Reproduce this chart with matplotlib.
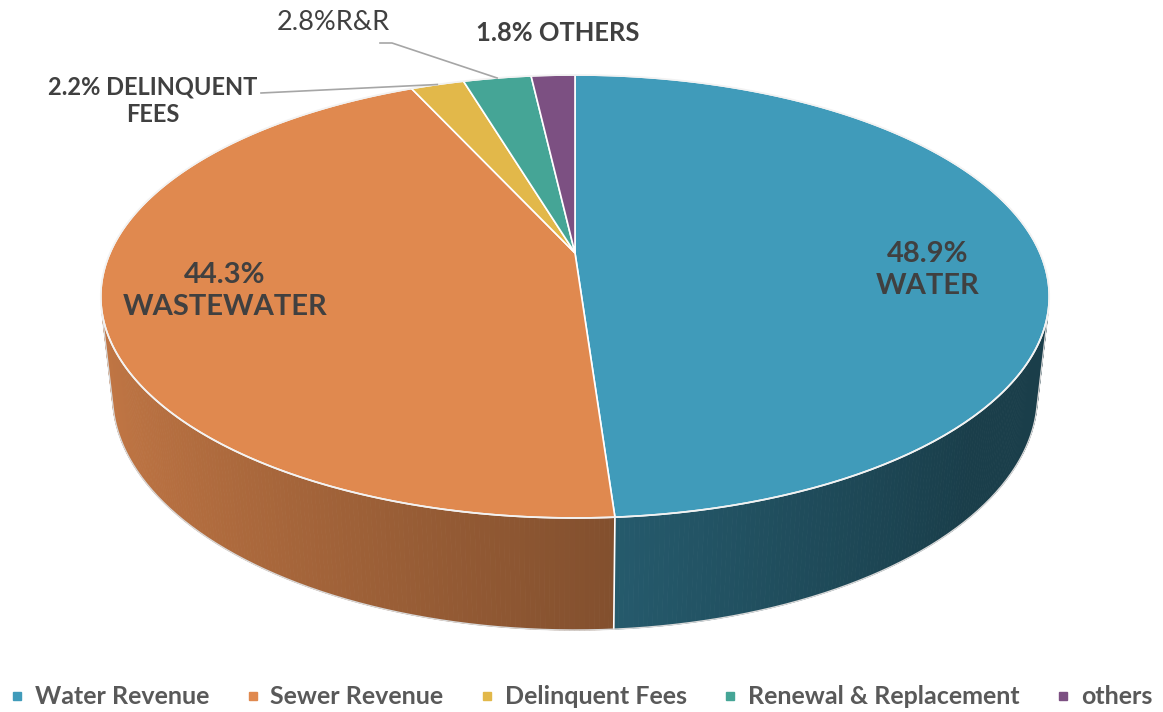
import numpy as np
import matplotlib.pyplot as plt
from matplotlib.lines import Line2D
from matplotlib.colors import to_rgb

plt.rcParams['font.family'] = ['Lato', 'DejaVu Sans']

# Data -------------------------------------------------------------------------
labels = ['Water Revenue', 'Sewer Revenue', 'Delinquent Fees',
          'Renewal & Replacement', 'others']
shares = [48.9, 44.3, 2.2, 2.8, 1.8]
colors = ['#409bba', '#e0894f', '#e2b84a', '#45a596', '#7c5082']
slice_text = ['48.9%\nWATER', '44.3%\nWASTEWATER', '2.2% DELINQUENT\nFEES',
              '2.8%R&R', '1.8% OTHERS']

# View of the 3d disc (radius 1, top at z=0) -----------------------------------
elev = np.arcsin(0.458)
dist = 4.53      # camera distance, in radii
depth = 0.24     # thickness of the disc
K = 465          # px per radius
cx, cy = 575, 253


def project(phi, z, r=1.0):
    # phi clockwise from 12 o'clock (the far side)
    x3 = r * np.sin(phi)
    y3 = r * np.cos(phi)
    Y = z * np.cos(elev) + y3 * np.sin(elev)
    D = y3 * np.cos(elev) - z * np.sin(elev)
    s = dist / (dist + D)
    return cx + K * x3 * s, cy - K * Y * s


def wall_color(col, phi):
    # light comes from the upper left
    f = max(0.40, 0.60 - 0.27 * np.sin(phi))
    return np.clip(np.array(to_rgb(col)) * f, 0, 1)


fig = plt.figure(figsize=(11.63, 7.12), dpi=100)
ax = fig.add_axes([0, 0, 1, 1])
ax.set_xlim(0, 1163)
ax.set_ylim(712, 0)
ax.axis('off')

edges = 2 * np.pi * np.concatenate([[0], np.cumsum(shares)]) / sum(shares)
# outer wall faces the camera where cos(phi) < -1/(dist*cos(elev))
vis = np.arccos(-1 / (dist * np.cos(elev)))
vis0, vis1 = vis, 2 * np.pi - vis

# Side walls
for i in range(len(shares)):
    a0 = max(edges[i], vis0)
    a1 = min(edges[i + 1], vis1)
    if a1 <= a0:
        continue
    n = max(int(np.degrees(a1 - a0) / 0.5), 1)
    ts = np.linspace(a0, a1, n + 1)
    for t0, t1 in zip(ts[:-1], ts[1:]):
        xt0, yt0 = project(t0, 0)
        xt1, yt1 = project(t1, 0)
        xb1, yb1 = project(t1, -depth)
        xb0, yb0 = project(t0, -depth)
        c = wall_color(colors[i], (t0 + t1) / 2)
        ax.fill([xt0, xt1, xb1, xb0], [yt0, yt1, yb1, yb0],
                color=c, lw=0.6, ec=c, zorder=1)

# white seams on the wall between slices
for a in edges:
    a = a % (2 * np.pi)
    if vis0 < a < vis1:
        xt, yt = project(a, 0)
        xb, yb = project(a, -depth)
        ax.plot([xt, xb], [yt, yb], color='white', lw=1.2, zorder=2)

# wall outline
tb = np.linspace(vis0, vis1, 300)
xb, yb = project(tb, -depth)
ax.plot(xb, yb, color='#d9d9d9', lw=1.0, zorder=2)
for a in (vis0, vis1):
    xt, yt = project(a, 0)
    xx, yy = project(a, -depth)
    ax.plot([xt, xx], [yt, yy], color='#d9d9d9', lw=1.0, zorder=2)

# Top faces
for i in range(len(shares)):
    ts = np.linspace(edges[i], edges[i + 1], 200)
    xs, ys = project(ts, 0)
    ax.fill(np.concatenate([[cx], xs]), np.concatenate([[cy], ys]),
            color=colors[i], ec='white', lw=1.2, zorder=3)

ta = np.linspace(0, 2 * np.pi, 400)
xr, yr = project(ta, 0)
ax.plot(xr, yr, color='#f2f2f2', lw=1.2, zorder=4)

# Labels -----------------------------------------------------------------------
txt_color = '#404040'
ax.text(928, 270, slice_text[0], ha='center', va='center', fontsize=21,
        weight='bold', color=txt_color, linespacing=1.3, zorder=5)
ax.text(225, 291, slice_text[1], ha='center', va='center', fontsize=21,
        weight='bold', color=txt_color, linespacing=1.3, zorder=5)
ax.text(153, 101, slice_text[2], ha='center', va='center', fontsize=17,
        weight='bold', color=txt_color, linespacing=1.25, zorder=5)
ax.text(333, 22, slice_text[3], ha='center', va='center', fontsize=19.5,
        color=txt_color, zorder=5)
ax.text(558, 33, slice_text[4], ha='center', va='center', fontsize=18.4,
        weight='bold', color=txt_color, zorder=5)

# leader lines to the middle of the small slices
mid = (edges[:-1] + edges[1:]) / 2
rx, ry = project(mid[2], 0)
ax.plot([261, rx], [93, ry], color='#a6a6a6', lw=1.2, zorder=5)
rx, ry = project(mid[3], 0)
ax.plot([380, 392, rx], [43, 43, ry], color='#a6a6a6', lw=1.2, zorder=5)

# Legend -----------------------------------------------------------------------
handles = [Line2D([], [], marker='s', ls='none', markersize=5.5,
                  color=c) for c in colors]
fig.legend(handles, labels, loc='center', bbox_to_anchor=(0.5, 1 - 697 / 712),
           ncol=5, frameon=False, handlelength=0.5, handletextpad=0.45,
           columnspacing=1.5, labelcolor='#595959',
           prop={'weight': 'bold', 'size': 18})

fig.savefig('out.png', dpi=100)
